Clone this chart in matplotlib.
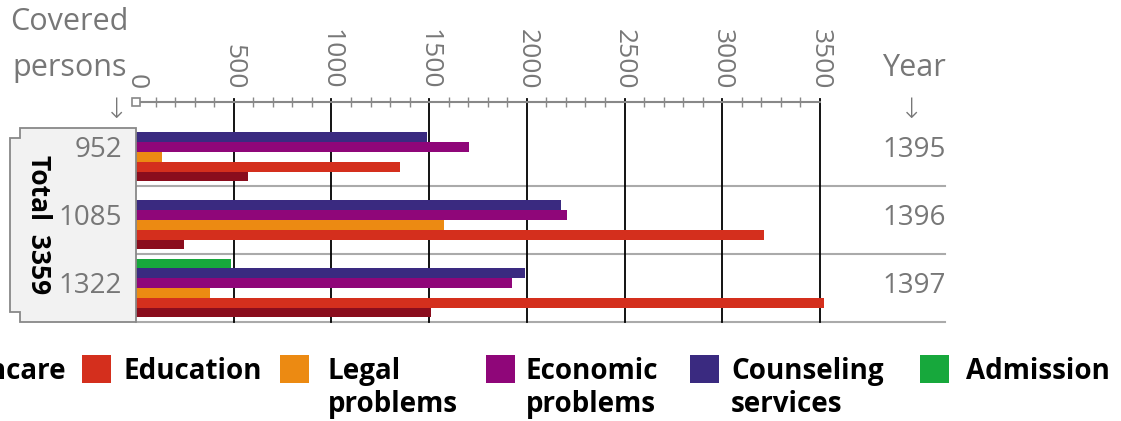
import numpy as np
import matplotlib
matplotlib.use("Agg")
import matplotlib.pyplot as plt
from matplotlib.patches import Polygon, Rectangle

plt.rcParams['font.family'] = ['Open Sans', 'DejaVu Sans']

years = ['1395', '1396', '1397']
covered = ['952', '1085', '1322']
total = 3359
categories = ['Admission', 'Counseling services', 'Economic problems',
              'Legal problems', 'Education', 'Healthcare']
values = {
    'Admission':           [0, 0, 486],
    'Counseling services': [1487, 2176, 1990],
    'Economic problems':   [1704, 2207, 1926],
    'Legal problems':      [132, 1576, 379],
    'Education':           [1352, 3212, 3520],
    'Healthcare':          [571, 248, 1511],
}
colors = {
    'Admission': '#17a83c',
    'Counseling services': '#3a2a80',
    'Economic problems': '#8f0679',
    'Legal problems': '#ec8a12',
    'Education': '#d42f1d',
    'Healthcare': '#8a0d1d',
}
xticks = [0, 500, 1000, 1500, 2000, 2500, 3000, 3500]

W, H = 1121, 421
fig = plt.figure(figsize=(W / 100, H / 100), dpi=100)

def px(x, y):
    return x / W, 1 - y / H

# axes: x 0 -> 136px, right edge 945px ; y top 102px, bottom 322px
scale = (820 - 136) / 3500.0
xmax = (945 - 136) / scale
ax = fig.add_axes([136 / W, 1 - 322 / H, (945 - 136) / W, (322 - 102) / H])
ax.set_xlim(0, xmax)
ytop = -50 / 68.0
ax.set_ylim(2.5, ytop)

gray = '#777777'
bh = 9.8 / 68.0
for k, cat in enumerate(categories):
    ys = np.arange(len(years)) + (k - 2.5) * bh
    ax.barh(ys, values[cat], height=bh, color=colors[cat], zorder=3, linewidth=0)

# gridlines
for t in xticks[1:]:
    ax.plot([t, t], [2.5, ytop - 0.05], color='black', lw=1.3, zorder=2, clip_on=False)
for yy in [0.5, 1.5, 2.5]:
    ax.axhline(yy, color='#aaaaaa', lw=1.5, zorder=1, clip_on=False)

for s in ['left', 'right', 'bottom']:
    ax.spines[s].set_visible(False)
ax.spines['top'].set_bounds(0, 3500)
ax.spines['top'].set_color('#888888')
ax.spines['top'].set_linewidth(1.5)
ax.xaxis.tick_top()
ax.set_xticks(xticks)
ax.set_xticks(np.arange(0, 3501, 100), minor=True)
ax.set_xticklabels([str(t) for t in xticks], rotation=-90, va='bottom', ha='center',
                   fontsize=19, color=gray)
ax.tick_params(axis='x', which='major', length=0, pad=9)
ax.tick_params(axis='x', which='minor', direction='inout', length=7, width=1, color='#888888')
ax.set_yticks([0.5, 1.5])
ax.set_yticklabels([])
ax.tick_params(axis='y', length=3, color='#888888')
ax.plot([0], [ytop], marker='s', ms=6, mfc='white', mec='#888888', mew=1.2,
        clip_on=False, zorder=5)

# left box with notched corners
pts = [(20, 128), (136, 128), (136, 322), (20, 322), (20, 312), (10, 312),
       (10, 138), (20, 138)]
poly = Polygon([px(x, y) for x, y in pts], closed=True, transform=fig.transFigure,
               facecolor='#f2f2f2', edgecolor='#888888', lw=1.3, zorder=0)
fig.patches.append(poly)

fig.text(*px(38, 225), 'Total  %d' % total, rotation=-90, ha='center', va='center',
         fontsize=19, fontweight='bold', color='black')
for i, c in enumerate(covered):
    fig.text(*px(122, 150 + 68 * i), c, ha='right', va='center', fontsize=20, color=gray)
for i, yv in enumerate(years):
    fig.text(*px(914, 150 + 68 * i), yv, ha='center', va='center', fontsize=20, color=gray)

fig.text(*px(129, 22), 'Covered', ha='right', va='center', fontsize=22, color=gray)
fig.text(*px(127, 68), 'persons', ha='right', va='center', fontsize=22, color=gray)
fig.text(*px(914, 68), 'Year', ha='center', va='center', fontsize=22, color=gray)
fig.text(*px(117, 110), '\u2193', ha='center', va='center', fontsize=20, color=gray,
         family=['DejaVu Sans'], fontweight='light')
fig.text(*px(912, 110), '\u2193', ha='center', va='center', fontsize=20, color=gray,
         family=['DejaVu Sans'], fontweight='light')

# legend
legend = [
    ('Healthcare', None, 66, 'right'),
    ('Education', 82, 124, 'left'),
    ('Legal problems', 280, 328, 'left'),
    ('Economic problems', 486, 526, 'left'),
    ('Counseling services', 690, 731, 'left'),
    ('Admission', 920, 966, 'left'),
]
labels2 = {'Legal problems': 'Legal\nproblems', 'Economic problems': 'Economic\nproblems',
           'Counseling services': 'Counseling\nservices'}
for name, sx, tx, ha in legend:
    if sx is not None:
        fig.patches.append(Rectangle(px(sx, 383), 29 / W, 28 / H, transform=fig.transFigure,
                                     facecolor=colors[name], edgecolor='none'))
    fig.text(*px(tx, 357), labels2.get(name, name), ha=ha, va='top', fontsize=20,
             fontweight='bold', color='black', linespacing=1.2)

fig.savefig('out.png', dpi=100)
